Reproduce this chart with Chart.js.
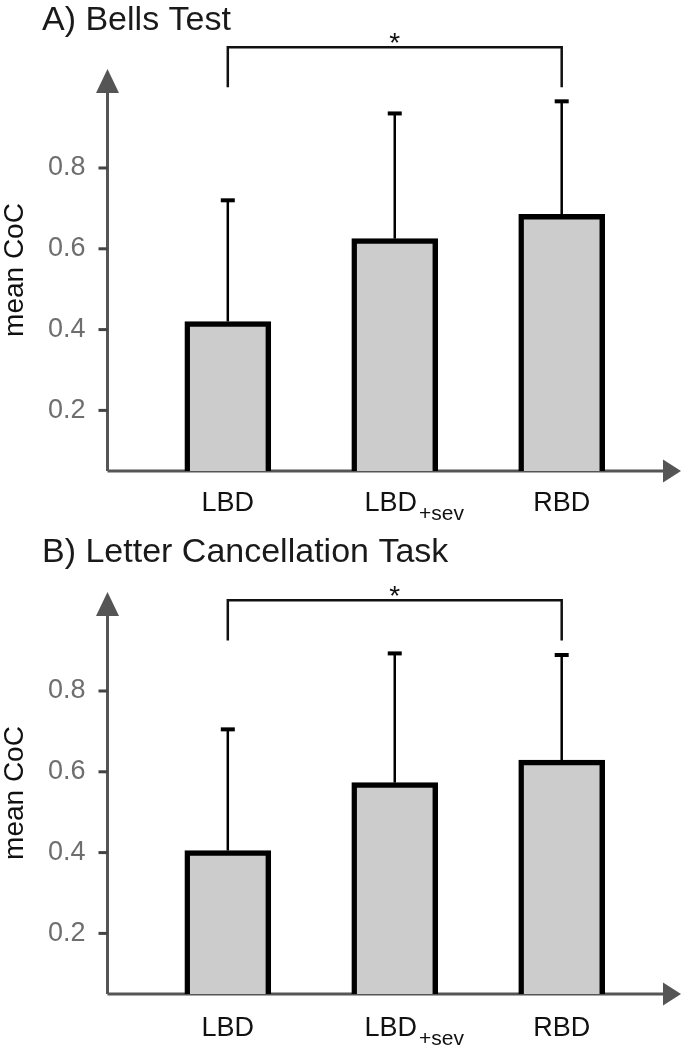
<!DOCTYPE html>
<html>
<head>
<meta charset="utf-8">
<script src="https://cdn.jsdelivr.net/npm/chart.js@4.4.0/dist/chart.umd.min.js"></script>
<style>
body{margin:0;background:#fff;width:689px;height:1050px;overflow:hidden;position:relative}
.panel{position:absolute;left:0;width:689px;height:523px}
</style>
</head>
<body>
<div class="panel" style="top:0"><canvas id="bells"></canvas></div>
<div class="panel" style="top:523px"><canvas id="letter"></canvas></div>
<script>
// groups (second one has a subscript)
var groups = ['LBD', 'LBD', 'RBD'];
var groupSub = ['', '+sev', ''];
var yTicks = [0.2, 0.4, 0.6, 0.8];

// A) Bells Test
var bellsMean = [0.42, 0.625, 0.685];
var bellsSd = [0.30, 0.31, 0.28];
// B) Letter Cancellation Task
var letterMean = [0.405, 0.573, 0.629];
var letterSd = [0.30, 0.32, 0.26];

var FONT = '"Liberation Sans", Arial, Helvetica, sans-serif';

// axes with arrows, error bars, bracket, titles, group labels
var panelDecor = {
  id: 'panelDecor',
  beforeDatasetsDraw: function(chart) {
    var ctx = chart.ctx, a = chart.chartArea;
    var ys = chart.scales.y;
    ctx.save();
    ctx.strokeStyle = '#555';
    ctx.fillStyle = '#555';
    ctx.lineWidth = 3;
    // y axis
    ctx.beginPath();
    ctx.moveTo(a.left, a.bottom);
    ctx.lineTo(a.left, a.top + 22);
    ctx.stroke();
    ctx.beginPath();
    ctx.moveTo(a.left, a.top);
    ctx.lineTo(a.left - 11.5, a.top + 24);
    ctx.lineTo(a.left + 11.5, a.top + 24);
    ctx.closePath();
    ctx.fill();
    // x axis
    ctx.beginPath();
    ctx.moveTo(a.left, a.bottom);
    ctx.lineTo(a.right - 16, a.bottom);
    ctx.stroke();
    ctx.beginPath();
    ctx.moveTo(a.right, a.bottom);
    ctx.lineTo(a.right - 18, a.bottom - 11.5);
    ctx.lineTo(a.right - 18, a.bottom + 11.5);
    ctx.closePath();
    ctx.fill();
    // tick marks
    ctx.strokeStyle = '#444';
    yTicks.forEach(function(t) {
      var y = ys.getPixelForValue(t);
      ctx.beginPath();
      ctx.moveTo(a.left - 9, y);
      ctx.lineTo(a.left, y);
      ctx.stroke();
    });
    ctx.restore();
  },
  afterDatasetsDraw: function(chart, args, opts) {
    var ctx = chart.ctx, a = chart.chartArea;
    var xs = chart.scales.x, ys = chart.scales.y;
    var mean = chart.data.datasets[0].data.map(function(d){ return d.y; });
    ctx.save();
    ctx.strokeStyle = '#000';
    // error bars (upper only)
    for (var i = 0; i < mean.length; i++) {
      var x = xs.getPixelForValue(i);
      var yBar = ys.getPixelForValue(mean[i]);
      var yTop = ys.getPixelForValue(mean[i] + opts.sd[i]);
      ctx.lineWidth = 2.5;
      ctx.beginPath();
      ctx.moveTo(x, yBar);
      ctx.lineTo(x, yTop);
      ctx.stroke();
      ctx.lineWidth = 4;
      ctx.beginPath();
      ctx.moveTo(x - 7, yTop);
      ctx.lineTo(x + 7, yTop);
      ctx.stroke();
    }
    // significance bracket
    var x0 = xs.getPixelForValue(0), x2 = xs.getPixelForValue(2);
    var yb = ys.getPixelForValue(opts.bracketY);
    var yl = ys.getPixelForValue(opts.legY);
    ctx.strokeStyle = '#111';
    ctx.lineWidth = 2.5;
    ctx.beginPath();
    ctx.moveTo(x0, yl);
    ctx.lineTo(x0, yb);
    ctx.lineTo(x2, yb);
    ctx.lineTo(x2, yl);
    ctx.stroke();
    ctx.fillStyle = '#111';
    ctx.font = '28px ' + FONT;
    ctx.textAlign = 'center';
    ctx.textBaseline = 'alphabetic';
    ctx.fillText('*', (x0 + x2) / 2, yb + 5);
    // panel title
    ctx.textAlign = 'left';
    ctx.font = '34px ' + FONT;
    ctx.fillStyle = '#1a1a1a';
    ctx.fillText(opts.title, 42, opts.titleY);
    // group labels
    ctx.fillStyle = '#111';
    for (var j = 0; j < groups.length; j++) {
      var gx = xs.getPixelForValue(j);
      var by = a.bottom + opts.labelGap;
      ctx.font = '27px ' + FONT;
      if (groupSub[j]) {
        var w = ctx.measureText(groups[j]).width;
        ctx.textAlign = 'left';
        ctx.fillText(groups[j], gx - 4 - w / 2, by);
        ctx.font = '21px ' + FONT;
        ctx.fillText(groupSub[j], gx - 4 + w / 2 + 2, by + 9);
      } else {
        ctx.textAlign = 'center';
        ctx.fillText(groups[j], gx, by);
      }
    }
    ctx.restore();
  }
};

function makePanel(id, mean, sd, title, titleY, bracketY, legY, labelGap) {
  var data1 = {
    datasets: [{
      label: title,
      data: mean.map(function(v, i){ return {x: i, y: v}; }),
      backgroundColor: '#cccccc',
      borderColor: '#000000',
      borderWidth: 5.5,
      borderSkipped: false,
      barThickness: 86
    }]
  };
  var options = {
    responsive: true,
    maintainAspectRatio: false,
    animation: false,
    events: [],
    layout: { padding: { top: 69, bottom: 52, left: 0, right: 8 } },
    scales: {
      x: {
        type: 'linear',
        display: false,
        offset: false,
        grid: { offset: false },
        min: -0.7206,
        max: 2.7146
      },
      y: {
        min: 0.05,
        max: 1.045,
        afterBuildTicks: function(scale) {
          scale.ticks = yTicks.map(function(v){ return {value: v}; });
        },
        afterFit: function(scale) { scale.width = 107.5; },
        grid: { display: false, drawTicks: false },
        border: { display: false },
        ticks: {
          padding: 22,
          color: '#6e6e6e',
          font: { family: FONT, size: 27 },
          callback: function(v) { return v.toFixed(1); }
        },
        title: {
          display: true,
          text: 'mean CoC',
          color: '#111',
          font: { family: FONT, size: 28, lineHeight: 1.1 },
          padding: { top: 0, bottom: 0 }
        }
      }
    },
    plugins: {
      legend: { display: false },
      tooltip: { enabled: false },
      panelDecor: { sd: sd, title: title, titleY: titleY, bracketY: bracketY, legY: legY, labelGap: labelGap }
    }
  };
  return new Chart(document.getElementById(id), {
    type: 'bar',
    data: data1,
    options: options,
    plugins: [panelDecor]
  });
}

makePanel('bells', bellsMean, bellsSd, 'A) Bells Test', 30, 1.099, 1.0, 40);
makePanel('letter', letterMean, letterSd, 'B) Letter Cancellation Task', 38.5, 1.0245, 0.925, 42);
</script>
</body>
</html>
